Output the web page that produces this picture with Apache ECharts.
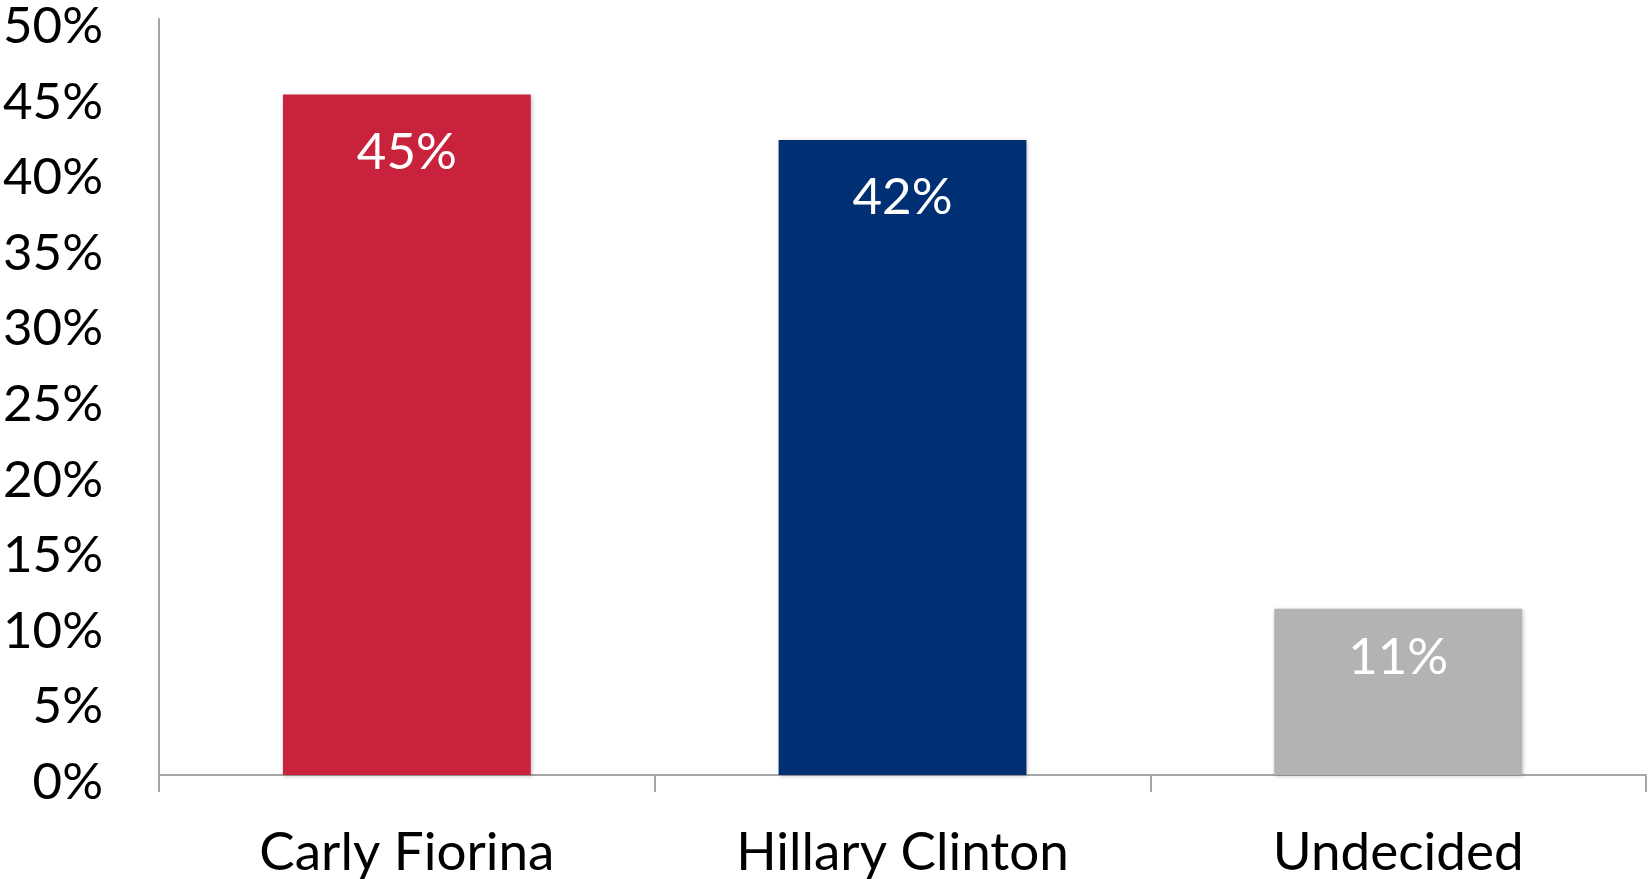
<!DOCTYPE html>
<html>
<head>
<meta charset="utf-8">
<script src="https://cdn.jsdelivr.net/npm/echarts@6/dist/echarts.min.js"></script>
<style>
  html, body { margin: 0; padding: 0; background: #fff; }
  #chart { width: 1651px; height: 879px; }
</style>
</head>
<body>
<div id="chart"></div>
<script>
// data
var candidates = ['Carly Fiorina', 'Hillary Clinton', 'Undecided'];
var shares = [45, 42, 11];
var barColors = ['#C8223D', '#012F73', '#B3B3B3'];
var yTicks = [0, 5, 10, 15, 20, 25, 30, 35, 40, 45, 50];

var chart = echarts.init(document.getElementById('chart'));
var font = 'Lato, "Open Sans", sans-serif';

var option = {
  animation: false,
  grid: { left: 159, right: 5, top: 19, bottom: 104 },
  xAxis: {
    type: 'category',
    data: candidates,
    axisLine: { lineStyle: { color: '#A6A6A6', width: 2 } },
    axisTick: { show: true, length: 17, lineStyle: { color: '#A6A6A6', width: 2 } },
    axisLabel: { color: '#000', fontSize: 53, fontFamily: font, margin: 51 }
  },
  yAxis: {
    type: 'value',
    min: yTicks[0],
    max: yTicks[yTicks.length - 1],
    interval: 5,
    axisLine: { show: true, lineStyle: { color: '#A6A6A6', width: 2 } },
    axisTick: { show: false },
    splitLine: { show: false },
    axisLabel: {
      color: '#000', fontSize: 51, fontFamily: font, margin: 56,
      verticalAlign: 'top', padding: [-18, 0, 0, 0],
      formatter: function (v) { return v + '%'; }
    }
  },
  series: [{
    type: 'bar',
    barWidth: '50%',
    data: shares.map(function (v, i) {
      // the short bar's label sits a little closer to its top
      return { value: v, itemStyle: { color: barColors[i] }, label: { distance: v < 20 ? 23 : 32 } };
    }),
    itemStyle: { shadowBlur: 4, shadowColor: 'rgba(0,0,0,0.25)', shadowOffsetX: 1, shadowOffsetY: 1 },
    label: {
      show: true,
      position: 'insideTop',
      color: '#fff',
      fontSize: 51,
      fontFamily: font,
      formatter: function (p) { return p.value + '%'; }
    }
  }]
};
chart.setOption(option);
</script>
</body>
</html>
